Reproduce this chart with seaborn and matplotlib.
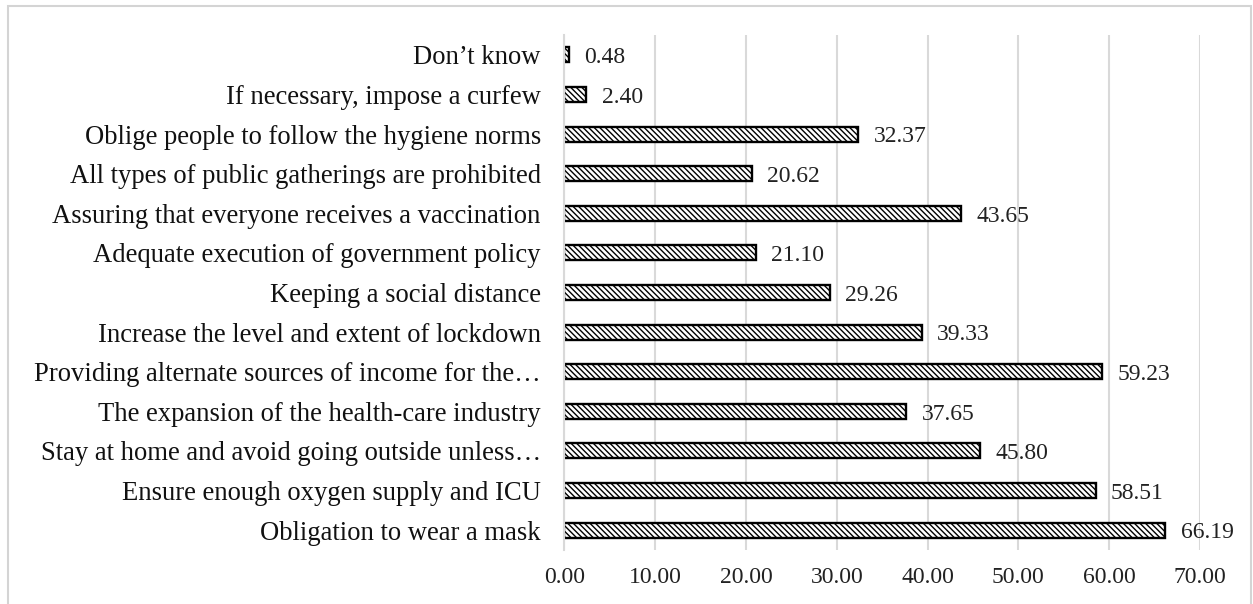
import matplotlib
matplotlib.use("Agg")
import matplotlib.pyplot as plt
import matplotlib.patches as mpatches
import seaborn as sns
import pandas as pd

categories = [
    "Don\u2019t know",
    "If necessary, impose a curfew",
    "Oblige people to follow the hygiene norms",
    "All types of public gatherings are prohibited",
    "Assuring that everyone receives a vaccination",
    "Adequate execution of government policy",
    "Keeping a social distance",
    "Increase the level and extent of lockdown",
    "Providing alternate sources of income for the\u2026",
    "The expansion of the health-care industry",
    "Stay at home and avoid going outside unless\u2026",
    "Ensure enough oxygen supply and ICU",
    "Obligation to wear a mask",
]
values = [0.48, 2.40, 32.37, 20.62, 43.65, 21.10, 29.26, 39.33, 59.23, 37.65, 45.80, 58.51, 66.19]
x_ticks = [0, 10, 20, 30, 40, 50, 60, 70]

sns.set_style("white")
plt.rcParams["font.family"] = ["Liberation Serif", "DejaVu Serif"]
plt.rcParams["hatch.linewidth"] = 1.0
plt.rcParams["hatch.color"] = "black"

df = pd.DataFrame({"category": categories, "value": values})

fig = plt.figure(figsize=(12.53, 6.04), dpi=100)
ax = fig.add_axes([0.4505, 0.0894, 0.9577 - 0.4505, 0.942 - 0.0894])

sns.barplot(data=df, x="value", y="category", orient="h", color="white",
            edgecolor="black", linewidth=1.7, width=0.38, ax=ax, saturation=1)
for p in ax.patches:
    p.set_hatch("\\" * 6)
    p.set_facecolor("white")
    p.set_edgecolor("black")

ax.set_xlim(0, 70)
ax.set_ylim(12.5, -0.5)
ax.set_xticks(x_ticks)
ax.set_xticklabels([f"{t:.2f}" for t in x_ticks])
ax.set_xlabel("")
ax.set_ylabel("")
ax.grid(axis="x", color="#d9d9d9", linewidth=1.5)
ax.grid(axis="y", visible=False)
ax.set_axisbelow(True)
for s in ["top", "right", "bottom"]:
    ax.spines[s].set_visible(False)
ax.spines["left"].set_color("#d9d9d9")
ax.spines["left"].set_linewidth(1.5)
ax.tick_params(axis="y", length=0, pad=17, labelsize=19.2, labelcolor="#111111")
ax.tick_params(axis="x", length=0, pad=12, labelsize=17, labelcolor="#222222")

for i, v in enumerate(values):
    ax.annotate(f"{v:.2f}", xy=(v, i), xytext=(11, -2), textcoords="offset points",
                ha="left", va="center", fontsize=17, color="#222222", clip_on=False)

border = mpatches.Rectangle((8 / 1253, -0.02), (1251 - 8) / 1253, 1 - 6 / 604 + 0.02,
                            transform=fig.transFigure, fill=False,
                            edgecolor="#d4d4d4", linewidth=1.5)
fig.patches.append(border)

fig.savefig("out.png", dpi=100)
